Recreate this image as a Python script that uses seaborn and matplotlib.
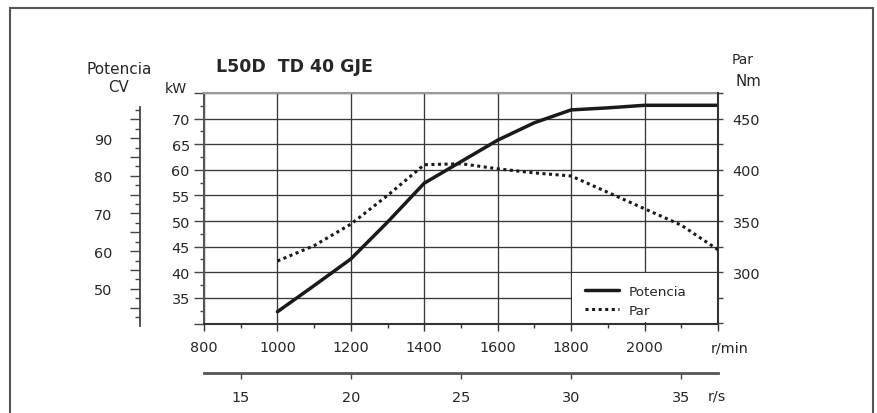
import numpy as np
import pandas as pd
import matplotlib
matplotlib.use("Agg")
import matplotlib.pyplot as plt
import seaborn as sns
from matplotlib.ticker import MultipleLocator, FixedLocator, FuncFormatter
from matplotlib.patches import Rectangle

# ---------------- data ----------------
rpm = [1000, 1100, 1200, 1300, 1400, 1500, 1600, 1700, 1800, 1900, 2000, 2100, 2200]
potencia_kw = [32.3, 37.4, 42.6, 49.8, 57.4, 61.6, 65.8, 69.2, 71.7, 72.1, 72.6, 72.6, 72.6]
par_nm = [311, 326, 347, 375, 405, 406, 401, 397, 394, 378, 362, 346, 322]

rpm_ticks = [800, 1000, 1200, 1400, 1600, 1800, 2000, 2200]
rps_ticks = [15, 20, 25, 30, 35]
kw_labels = [35, 40, 45, 50, 55, 60, 65, 70]
cv_labels = [50, 60, 70, 80, 90]
nm_labels = [300, 350, 400, 450]
series_names = ["Potencia", "Par"]
title = "L50D  TD 40 GJE"
KW_PER_CV = 0.7355

df = pd.DataFrame({"rpm": rpm, "kW": potencia_kw, "Nm": par_nm})

# ---------------- style ----------------
sns.set_theme(style="white")
plt.rcParams["font.family"] = ["DejaVu Sans"]
TXT = "#262626"
plt.rcParams["text.color"] = TXT
plt.rcParams["xtick.color"] = TXT
plt.rcParams["ytick.color"] = TXT
FS = 10.4

W, H = 877, 414
fig = plt.figure(figsize=(W / 100, H / 100), dpi=100)
fig.patch.set_facecolor("white")

L, R, T, B = 204, 718, 94, 324.5
ax = fig.add_axes([L / W, (H - B) / H, (R - L) / W, (B - T) / H])
ax_nm = ax.twinx()
ax_cv = ax.twinx()

ax.set_xlim(800, 2200)
ax.set_ylim(30, 75)
ax_nm.set_ylim(250, 475)
ax_cv.set_ylim(30 / KW_PER_CV, 75 / KW_PER_CV)

# grid
ax.set_axisbelow(True)
ax.grid(True, which="major", color="#383838", linewidth=0.95)

# white legend area covering grid
ax.add_patch(Rectangle((1803, 30.2), 395, 9.65, facecolor="white",
                       edgecolor="none", zorder=1))

# lines
sns.lineplot(data=df, x="rpm", y="kW", ax=ax, color="#1a1a1a",
             linewidth=2.5, label=series_names[0], legend=False, zorder=3)
sns.lineplot(data=df, x="rpm", y="Nm", ax=ax_nm, color="#1a1a1a",
             linewidth=2.2, linestyle=(0, (1, 1.15)), label=series_names[1],
             legend=False, zorder=3)
for a in (ax, ax_nm, ax_cv):
    a.set_xlabel("")
    a.set_ylabel("")

# ---------------- spines ----------------
for s in ("top", "left", "bottom", "right"):
    ax.spines[s].set_visible(True)
ax.spines["right"].set_visible(False)
ax.spines["top"].set_color("#9a9a9a")
ax.spines["top"].set_linewidth(1.5)
ax.spines["left"].set_color("#555555")
ax.spines["left"].set_linewidth(1.5)
ax.spines["bottom"].set_color("#333333")
ax.spines["bottom"].set_linewidth(1.5)

for s in ("top", "left", "bottom"):
    ax_nm.spines[s].set_visible(False)
ax_nm.spines["right"].set_visible(True)
ax_nm.spines["right"].set_color("#333333")
ax_nm.spines["right"].set_linewidth(1.5)

for s in ("top", "right", "bottom"):
    ax_cv.spines[s].set_visible(False)
ax_cv.spines["left"].set_visible(True)
ax_cv.spines["left"].set_position(("outward", 46))
ax_cv.spines["left"].set_color("#444444")
ax_cv.spines["left"].set_linewidth(1.3)
ax_cv.spines["left"].set_bounds(29.5 / KW_PER_CV, 72.3 / KW_PER_CV)
ax_cv.yaxis.set_label_position("left")
ax_cv.yaxis.set_ticks_position("left")

# ---------------- ticks ----------------
ax.xaxis.set_major_locator(FixedLocator(rpm_ticks))
ax.xaxis.set_major_formatter(FuncFormatter(lambda v, p: f"{v:.0f}" if v < 2150 else ""))
ax.xaxis.set_minor_locator(MultipleLocator(100))
ax.tick_params(axis="x", which="major", bottom=True, direction="out", length=5,
               width=1, color="#333333", labelsize=FS, pad=7)
ax.tick_params(axis="x", which="minor", bottom=True, direction="out", length=3,
               width=1, color="#333333")

ax.yaxis.set_major_locator(MultipleLocator(5))
ax.yaxis.set_major_formatter(FuncFormatter(
    lambda v, p: f"{v:.0f}" if round(v) in kw_labels else ""))
ax.yaxis.set_minor_locator(FixedLocator(np.arange(32.5, 75, 5)))
ax.tick_params(axis="y", which="major", left=True, right=False, direction="out",
               length=7.2, width=1, color="#444444", labelsize=FS, pad=3)
ax.tick_params(axis="y", which="minor", left=True, right=False, direction="out",
               length=3, width=1, color="#444444")

ax_nm.yaxis.set_major_locator(MultipleLocator(25))
ax_nm.yaxis.set_major_formatter(FuncFormatter(
    lambda v, p: f"{v:.0f}" if round(v) in nm_labels else ""))
ax_nm.tick_params(axis="y", which="major", right=True, left=False, direction="out",
                  length=3.6, width=1, color="#444444", labelsize=FS, pad=7)

ax_cv.yaxis.set_major_locator(FixedLocator(np.arange(45, 98, 5)))
ax_cv.yaxis.set_minor_locator(FixedLocator(np.arange(42.5, 98, 5)))
ax_cv.yaxis.set_major_formatter(FuncFormatter(
    lambda v, p: f"{v:.0f}" if round(v) in cv_labels else ""))
ax_cv.tick_params(axis="y", which="major", left=True, right=False, labelleft=True,
                  labelright=False, direction="out", length=7.2, width=1,
                  color="#444444", labelsize=FS, pad=13)
ax_cv.tick_params(axis="y", which="minor", left=True, right=False,
                  direction="out", length=3.6, width=1, color="#444444")

# r/s secondary axis
sec = ax.secondary_xaxis(-(374 - B) / (B - T),
                         functions=(lambda x: x / 60.0, lambda x: x * 60.0))
sec.set_xticks(rps_ticks)
sec.tick_params(axis="x", bottom=True, direction="out", length=4, width=1,
                color="#444444", labelsize=FS, pad=8)
sec.spines["bottom"].set_color("#555555")
sec.spines["bottom"].set_linewidth(2)

# ---------------- legend ----------------
h1 = ax.get_lines()[0]
h2 = ax_nm.get_lines()[0]
ax_nm.legend([h1, h2], series_names, loc="upper left",
             bbox_to_anchor=((585 - L) / (R - L), (B - 286) / (B - T)),
             frameon=False, borderpad=0, borderaxespad=0, handlelength=2.5,
             handletextpad=0.75, labelspacing=0.45, fontsize=9.7)

# ---------------- texts ----------------
def ftext(x, y, s, **kw):
    fig.text(x / W, 1 - y / H, s, ha="center", va="center", **kw)

fig.text(216.5 / W, 1 - 67 / H, title, ha="left", va="center",
         fontsize=12.5, fontweight="bold")
ftext(119.5, 70, "Potencia", fontsize=11)
ftext(118, 88, "CV", fontsize=10.8)
ftext(176, 89, "kW", fontsize=10.2)
ftext(743, 60, "Par", fontsize=9.9)
ftext(748, 82, "Nm", fontsize=10.8)
ftext(730, 349, "r/min", fontsize=FS)
ftext(716.5, 397, "r/s", fontsize=FS)

# outer frame
fig.add_artist(Rectangle((9.5 / W, -0.1), (873 - 9.5) / W, 1.1 - 8.5 / H,
                         transform=fig.transFigure, facecolor="none",
                         edgecolor="#555555", linewidth=1.5))

fig.savefig("out.png", dpi=100)
